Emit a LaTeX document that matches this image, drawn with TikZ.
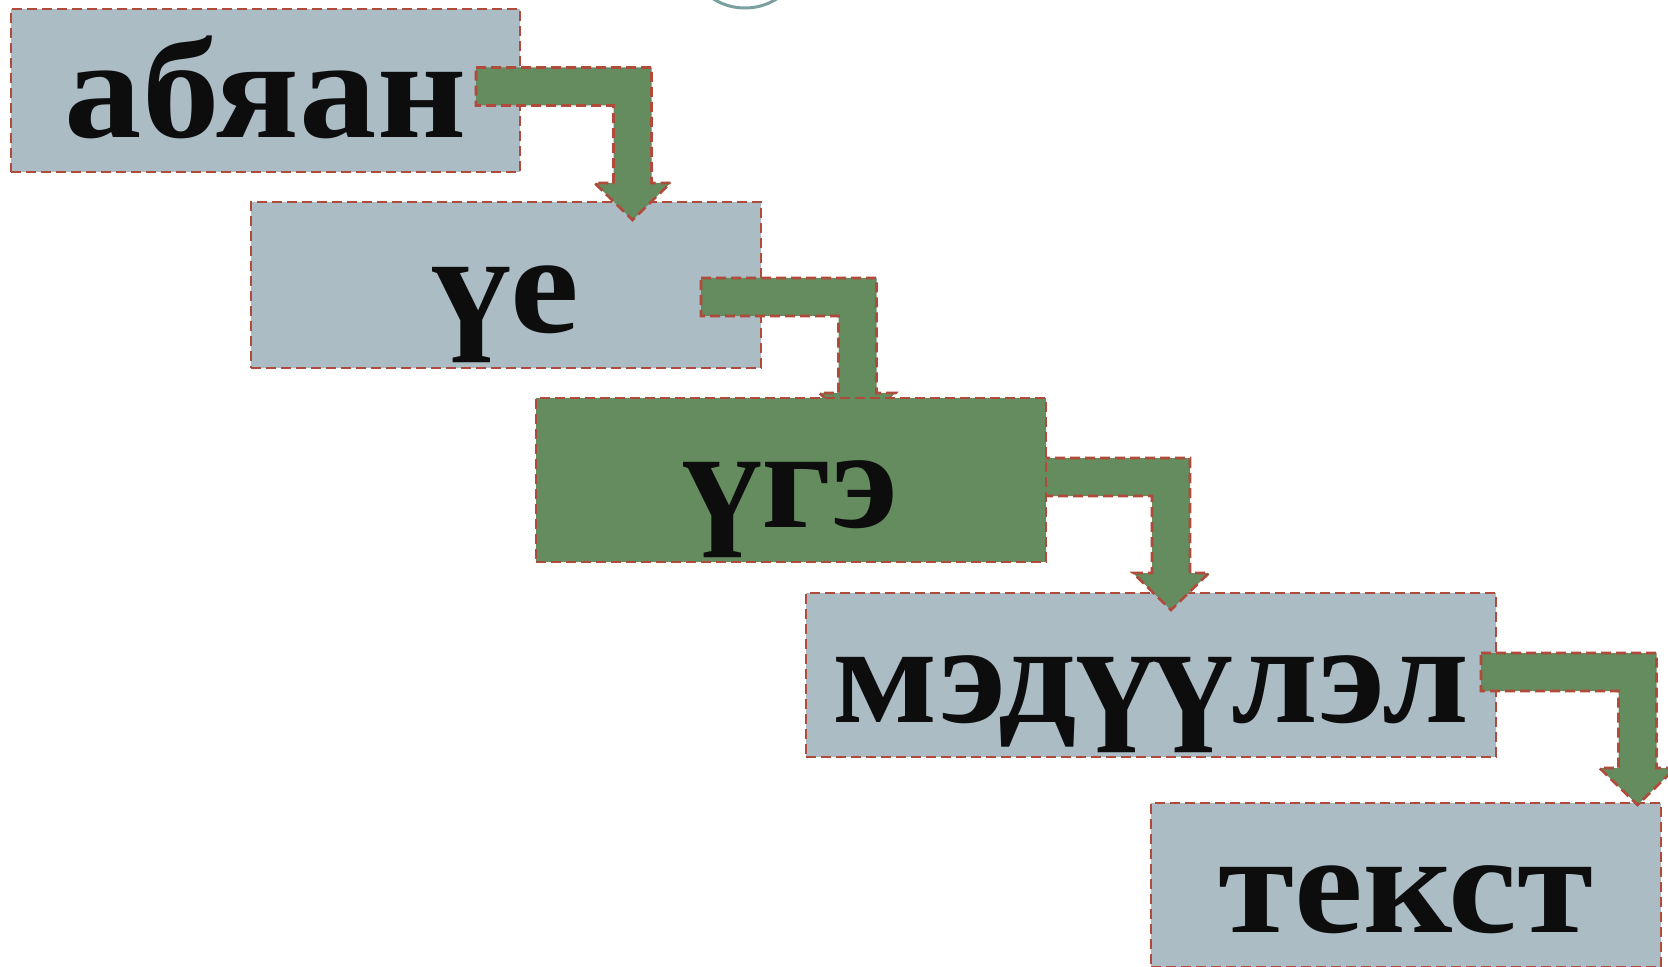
\documentclass[tikz,border=0pt]{standalone}
\usepackage{fontspec}
\setmainfont{Liberation Serif}[FakeStretch=1.09]
\usetikzlibrary{calc}
\definecolor{boxgray}{RGB}{171,188,197}
\definecolor{arrgreen}{RGB}{101,140,95}
\definecolor{dashred}{RGB}{176,74,58}
\definecolor{txt}{RGB}{13,13,13}
\definecolor{ringcol}{RGB}{122,160,160}
\newcommand\bentarrow[2]{%
  \path[arrowsty] let \p1=(#1), \p2=(#2) in
    (\x1,\y1+9.5pt) -- (\x2+9.5pt,\y1+9.5pt) -- (\x2+9.5pt,\y2+18.5pt)
    -- (\x2+19pt,\y2+18.5pt) -- (\x2,\y2) -- (\x2-19pt,\y2+18.5pt)
    -- (\x2-9.5pt,\y2+18.5pt) -- (\x2-9.5pt,\y1-9.5pt) -- (\x1,\y1-9.5pt) -- cycle;}
\tikzset{
  outline/.style={draw=dashred, dash pattern=on 5pt off 2.5pt, line width=1.3pt},
  boxsty/.style={rectangle, outline, fill=boxgray, inner sep=0pt,
    text height=60pt, text depth=12.5pt, text=txt,
    font=\fontsize{71pt}{80pt}\selectfont\bfseries, minimum height=82pt},
  histy/.style={boxsty, fill=arrgreen},
  arrowsty/.style={outline, fill=arrgreen, line join=miter},
}
\begin{document}
\begin{tikzpicture}[x=0.5pt,y=-0.5pt]
\useasboundingbox (0,0) rectangle (1668,967);
\node[circle, draw=ringcol, line width=1.5pt, minimum size=60pt, inner sep=0pt] (ring) at (745,-52) {};
\node[boxsty, minimum width=254.5pt, minimum height=81.5pt] (b1) at (265.5,90.5) {абяан};
\node[boxsty, minimum width=255pt, minimum height=83pt] (b2) at (506,285) {үе};
\node[boxsty, minimum width=345pt] (b4) at (1151,675) {мэдүүлэл};
\node[boxsty, minimum width=255pt] (b5) at (1406,885) {текст};
\coordinate (s1) at (476,86.5);   \coordinate (t1) at (632.5,220);
\coordinate (s2) at (701,297);    \coordinate (t2) at (857.5,430);
\coordinate (s3) at (1010,477);   \coordinate (t3) at (1171,610);
\coordinate (s4) at (1481,672);   \coordinate (t4) at (1637.5,805);
\bentarrow{s1}{t1}
\bentarrow{s2}{t2}
\bentarrow{s3}{t3}
\node[histy, minimum width=255pt] (b3) at (791,480) {үгэ};
\bentarrow{s4}{t4}
\end{tikzpicture}
\end{document}
